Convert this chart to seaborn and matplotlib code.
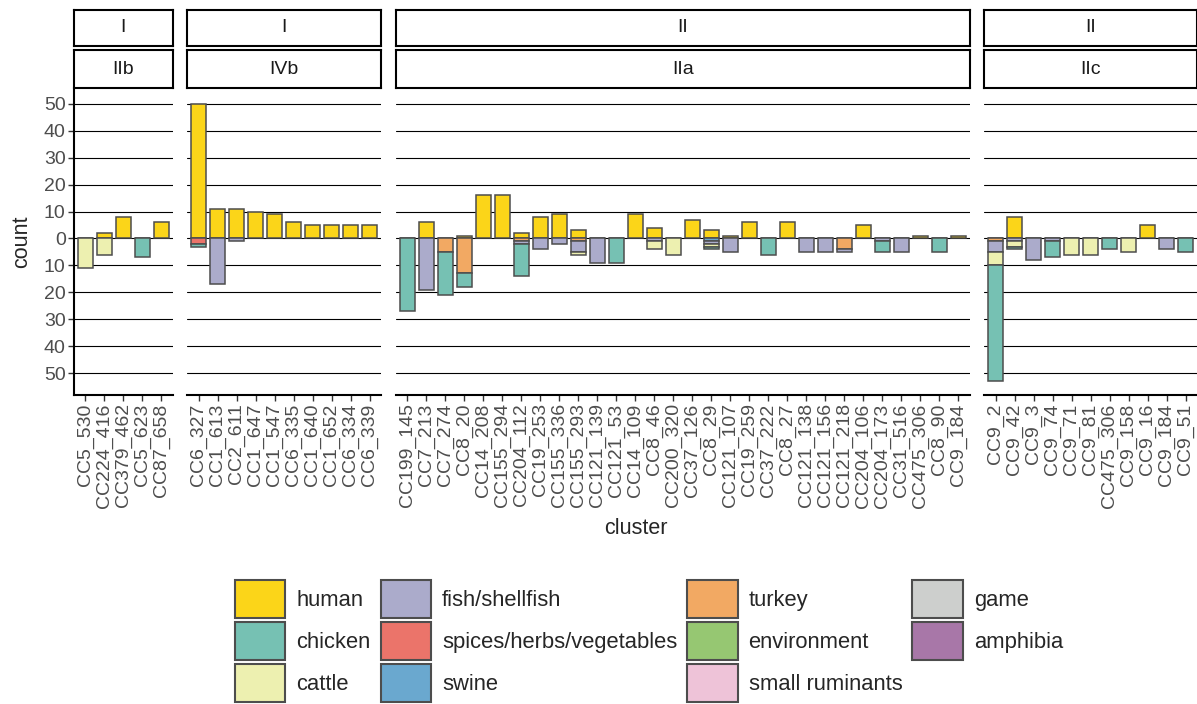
import numpy as np
import pandas as pd
import matplotlib
matplotlib.use("Agg")
import matplotlib.pyplot as plt
from matplotlib.patches import Patch
import seaborn as sns

# clusters per facet (lineage / sublineage)
clusters_p1 = ['CC5_530', 'CC224_416', 'CC379_462', 'CC5_623', 'CC87_658']
clusters_p2 = ['CC6_327', 'CC1_613', 'CC2_611', 'CC1_647', 'CC1_547', 'CC6_335',
               'CC1_640', 'CC1_652', 'CC6_334', 'CC6_339']
clusters_p3 = ['CC199_145', 'CC7_213', 'CC7_274', 'CC8_20', 'CC14_208', 'CC155_294',
               'CC204_112', 'CC19_253', 'CC155_336', 'CC155_293', 'CC121_139', 'CC121_53',
               'CC14_109', 'CC8_46', 'CC200_320', 'CC37_126', 'CC8_29', 'CC121_107',
               'CC19_259', 'CC37_222', 'CC8_27', 'CC121_138', 'CC121_156', 'CC121_218',
               'CC204_106', 'CC204_173', 'CC31_516', 'CC475_306', 'CC8_90', 'CC9_184']
clusters_p4 = ['CC9_2', 'CC9_42', 'CC9_3', 'CC9_74', 'CC9_71', 'CC9_81', 'CC475_306',
               'CC9_158', 'CC9_16', 'CC9_184', 'CC9_51']
lineages = ['I', 'I', 'II', 'II']
sublineages = ['IIb', 'IVb', 'IIa', 'IIc']

# counts per source, in the order p1 + p2 + p3 + p4
human = [0, 2, 8, 0, 6,
         50, 11, 11, 10, 9, 6, 5, 5, 5, 5,
         0, 6, 0, 1, 16, 16, 2, 8, 9, 3, 0, 0, 9, 4, 0, 7, 3, 1, 6, 0, 6, 0, 0, 0, 5, 0, 0, 1, 0, 1,
         0, 8, 0, 0, 0, 0, 0, 0, 5, 0, 0]
chicken = [0, 0, 0, 7, 0,
           1, 0, 0, 0, 0, 0, 0, 0, 0, 0,
           27, 0, 16, 5, 0, 0, 12, 0, 0, 0, 0, 9, 0, 0, 0, 0, 1, 0, 0, 6, 0, 0, 0, 0, 0, 4, 0, 0, 5, 0,
           43, 1, 0, 6, 0, 0, 4, 0, 0, 0, 5]
cattle = [11, 6, 0, 0, 0,
          0, 0, 0, 0, 0, 0, 0, 0, 0, 0,
          0, 0, 0, 0, 0, 0, 0, 0, 0, 1, 0, 0, 0, 3, 6, 0, 1, 0, 0, 0, 0, 0, 0, 0, 0, 0, 0, 0, 0, 0,
          5, 2, 0, 0, 6, 6, 0, 5, 0, 0, 0]
fish = [0, 0, 0, 0, 0,
        0, 17, 1, 0, 0, 0, 0, 0, 0, 0,
        0, 19, 0, 0, 0, 0, 1, 4, 2, 4, 9, 0, 0, 1, 0, 0, 1, 5, 0, 0, 0, 5, 5, 1, 0, 1, 5, 0, 0, 0,
        4, 1, 8, 1, 0, 0, 0, 0, 0, 4, 0]
spices = [0, 0, 0, 0, 0,
          2, 0, 0, 0, 0, 0, 0, 0, 0, 0,
          0, 0, 0, 0, 0, 0, 0, 0, 0, 0, 0, 0, 0, 0, 0, 0, 0, 0, 0, 0, 0, 0, 0, 0, 0, 0, 0, 0, 0, 0,
          0, 0, 0, 0, 0, 0, 0, 0, 0, 0, 0]
swine = [0, 0, 0, 0, 0,
         0, 0, 0, 0, 0, 0, 0, 0, 0, 0,
         0, 0, 0, 0, 0, 0, 0, 0, 0, 0, 0, 0, 0, 0, 0, 0, 1, 0, 0, 0, 0, 0, 0, 0, 0, 0, 0, 0, 0, 0,
         0, 0, 0, 0, 0, 0, 0, 0, 0, 0, 0]
turkey = [0, 0, 0, 0, 0,
          0, 0, 0, 0, 0, 0, 0, 0, 0, 0,
          0, 0, 5, 13, 0, 0, 1, 0, 0, 1, 0, 0, 0, 0, 0, 0, 0, 0, 0, 0, 0, 0, 0, 4, 0, 0, 0, 0, 0, 0,
          1, 0, 0, 0, 0, 0, 0, 0, 0, 0, 0]

sources = ['human', 'chicken', 'cattle', 'fish/shellfish', 'spices/herbs/vegetables', 'swine',
           'turkey', 'environment', 'small ruminants', 'game', 'amphibia']
colors = ['#FBD519', '#76C1B3', '#EDF0B0', '#ABABCB', '#EB746A', '#6AA8CF',
          '#F2A963', '#96C772', '#EEC3D8', '#CDCFCD', '#A877A8']

panels = [clusters_p1, clusters_p2, clusters_p3, clusters_p4]
panel_id = sum([[i] * len(p) for i, p in enumerate(panels)], [])
zeros = [0] * len(panel_id)
df = pd.DataFrame({
    'panel': panel_id,
    'cluster': sum(panels, []),
    'human': human, 'chicken': chicken, 'cattle': cattle, 'fish/shellfish': fish,
    'spices/herbs/vegetables': spices, 'swine': swine, 'turkey': turkey,
    'environment': zeros, 'small ruminants': zeros, 'game': zeros, 'amphibia': zeros,
})

sns.set_style('white')
plt.rcParams['font.family'] = ['Liberation Sans', 'DejaVu Sans']

W, H = 1197, 704
fig = plt.figure(figsize=(W / 100, H / 100), dpi=100)
widths = [len(p) + 0.2 for p in panels]
gs = fig.add_gridspec(1, 4, width_ratios=widths, left=74 / W, right=1.0,
                      bottom=1 - 395 / H, top=1 - 90 / H, wspace=0.054)

edge = '#4D4D4D'
for i, clus in enumerate(panels):
    ax = fig.add_subplot(gs[0, i])
    sub = df[df['panel'] == i].reset_index(drop=True)
    x = np.arange(len(sub))
    # human upwards
    ax.bar(x, sub['human'], width=0.78, color=colors[0], edgecolor=edge, linewidth=1.1, zorder=3)
    # other sources stacked downwards, first level farthest from zero
    bottom = np.zeros(len(sub))
    for src, col in list(zip(sources[1:], colors[1:]))[::-1]:
        vals = -sub[src].values
        mask = vals != 0
        if mask.any():
            ax.bar(x[mask], vals[mask], bottom=bottom[mask], width=0.78, color=col,
                   edgecolor=edge, linewidth=1.1, zorder=3)
        bottom = bottom + vals
    ax.set_xlim(-0.6, len(sub) - 0.4)
    ax.set_ylim(-58.15, 55.15)
    ax.set_yticks(range(-50, 51, 10))
    for yv in range(-50, 51, 10):
        ax.axhline(yv, color='black', linewidth=0.8, zorder=1)
    ax.set_xticks(x)
    ax.set_xticklabels(sub['cluster'], rotation=90, fontsize=14, color='#4D4D4D')
    ax.tick_params(axis='x', length=4, width=1, color='#333333', pad=2, bottom=True)
    for s in ['top', 'right']:
        ax.spines[s].set_visible(False)
    ax.spines['bottom'].set_color('black')
    ax.spines['bottom'].set_linewidth(1.5)
    if i == 0:
        ax.set_yticklabels([str(abs(v)) for v in range(-50, 51, 10)], fontsize=14, color='#4D4D4D')
        ax.tick_params(axis='y', length=4, width=1, color='#333333', pad=2, left=True)
        ax.spines['left'].set_color('black')
        ax.spines['left'].set_linewidth(1.5)
    else:
        ax.set_yticklabels([])
        ax.tick_params(axis='y', length=0)
        ax.spines['left'].set_visible(False)
    ax.set_facecolor('white')

    # facet strips
    pos = ax.get_position()
    for (y0, y1), lab in [((10, 46), lineages[i]), ((50, 88), sublineages[i])]:
        sax = fig.add_axes([pos.x0, 1 - y1 / H, pos.width, (y1 - y0) / H])
        sax.set_xticks([])
        sax.set_yticks([])
        sax.set_facecolor('white')
        for s in sax.spines.values():
            s.set_visible(True)
            s.set_color('black')
            s.set_linewidth(1.5)
        sax.text(0.5, 0.5, lab, ha='center', va='center', fontsize=14, color='#1A1A1A',
                 transform=sax.transAxes)

fig.text(22 / W, 1 - 242 / H, 'count', rotation=90, ha='center', va='center', fontsize=15.5)
fig.text(636 / W, 1 - 528 / H, 'cluster', ha='center', va='center', fontsize=15.5)

handles = [Patch(facecolor=c, edgecolor=edge, linewidth=1.5, label=s) for s, c in zip(sources, colors)]
fig.legend(handles=handles, ncol=4, loc='upper left', bbox_to_anchor=(235 / W, 1 - 580 / H),
           frameon=False, fontsize=15.8, handlelength=2.3, handleheight=2.3,
           handletextpad=0.5, columnspacing=0.45, labelspacing=0.18, borderpad=0,
           borderaxespad=0)

fig.savefig('out.png', dpi=100)
